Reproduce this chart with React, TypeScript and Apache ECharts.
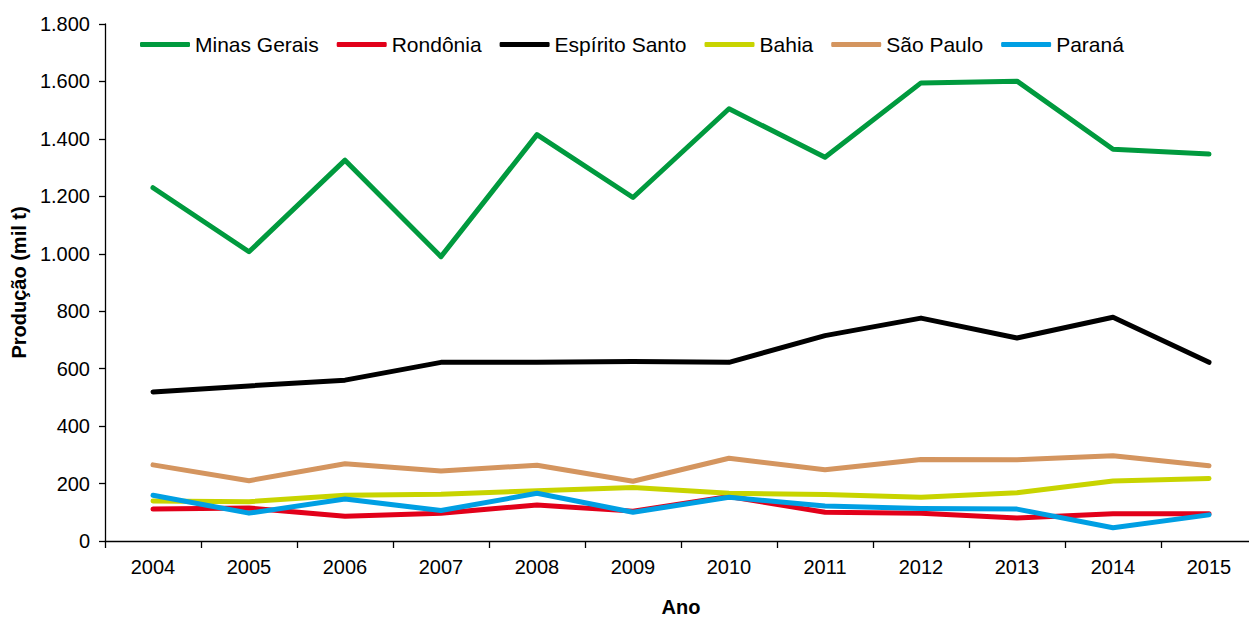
import React, { useEffect, useRef } from "react";
import * as echarts from "echarts";

const years = ["2004", "2005", "2006", "2007", "2008", "2009", "2010", "2011", "2012", "2013", "2014", "2015"];
const minasGerais = [1230, 1007, 1326, 990, 1415, 1196, 1505, 1336, 1595, 1601, 1364, 1347];
const rondonia = [111, 115, 86, 97, 125, 104, 155, 100, 97, 80, 95, 95];
const espiritoSanto = [519, 540, 560, 622, 622, 625, 622, 715, 776, 707, 779, 622];
const bahia = [139, 137, 159, 163, 175, 186, 166, 162, 152, 168, 209, 218];
const saoPaulo = [265, 210, 269, 244, 264, 208, 288, 248, 284, 283, 297, 262];
const parana = [159, 97, 146, 106, 166, 100, 152, 122, 113, 111, 46, 91];

const seriesNames = ["Minas Gerais", "Rondônia", "Espírito Santo", "Bahia", "São Paulo", "Paraná"];
const seriesData = [minasGerais, rondonia, espiritoSanto, bahia, saoPaulo, parana];
const colors = ["#009a3e", "#e2001a", "#000000", "#c8d400", "#d4955f", "#009fe3"];

const FONT = "Liberation Sans, Arial, sans-serif";

export default function App() {
  const ref = useRef<HTMLDivElement>(null);
  useEffect(() => {
    if (!ref.current) return;
    const chart = echarts.init(ref.current, null, { renderer: "svg" });
    chart.setOption({
      animation: false,
      textStyle: { fontFamily: FONT },
      grid: { left: 105, right: 0, top: 24, bottom: 74, containLabel: false },
      legend: {
        left: 135,
        top: 29,
        icon: "roundRect",
        itemWidth: 50,
        itemHeight: 5,
        itemGap: 18,
        textStyle: { fontSize: 21, color: "#000", fontFamily: FONT },
        data: seriesNames,
      },
      xAxis: {
        type: "category",
        data: years,
        boundaryGap: true,
        name: "Ano",
        nameLocation: "middle",
        nameGap: 56,
        nameTextStyle: { fontSize: 20, fontWeight: "bold", color: "#000", fontFamily: FONT },
        axisLine: { show: true, lineStyle: { color: "#000", width: 1.3 } },
        axisTick: { show: true, length: 7, alignWithLabel: false, lineStyle: { color: "#000", width: 1.3 } },
        axisLabel: { fontSize: 20, color: "#000", margin: 16, fontFamily: FONT },
        splitLine: { show: false },
      },
      yAxis: {
        type: "value",
        min: 0,
        max: 1800,
        interval: 200,
        name: "Produção (mil t)",
        nameLocation: "middle",
        nameGap: 76,
        nameRotate: 90,
        nameTextStyle: { fontSize: 20, fontWeight: "bold", color: "#000", fontFamily: FONT },
        axisLine: { show: true, lineStyle: { color: "#000", width: 1.3 } },
        axisTick: { show: true, inside: false, length: 6, lineStyle: { color: "#000", width: 1.3 } },
        axisLabel: {
          fontSize: 20,
          color: "#000",
          margin: 15,
          fontFamily: FONT,
          formatter: (v: number) => String(v).replace(/\B(?=(\d{3})+(?!\d))/g, "."),
        },
        splitLine: { show: false },
      },
      series: seriesNames.map((name, i) => ({
        name,
        type: "line",
        data: seriesData[i],
        showSymbol: false,
        symbol: "none",
        color: colors[i],
        itemStyle: { color: colors[i] },
        lineStyle: { width: 5, color: colors[i], cap: "round", join: "round" },
      })),
    });
    return () => chart.dispose();
  }, []);
  return (
    <div style={{ position: "absolute", left: 0, top: 0, width: 1249, height: 622, overflow: "hidden", background: "#fff" }}>
      <div ref={ref} style={{ position: "absolute", left: 0, top: 0, width: 1257, height: 622 }} />
    </div>
  );
}
